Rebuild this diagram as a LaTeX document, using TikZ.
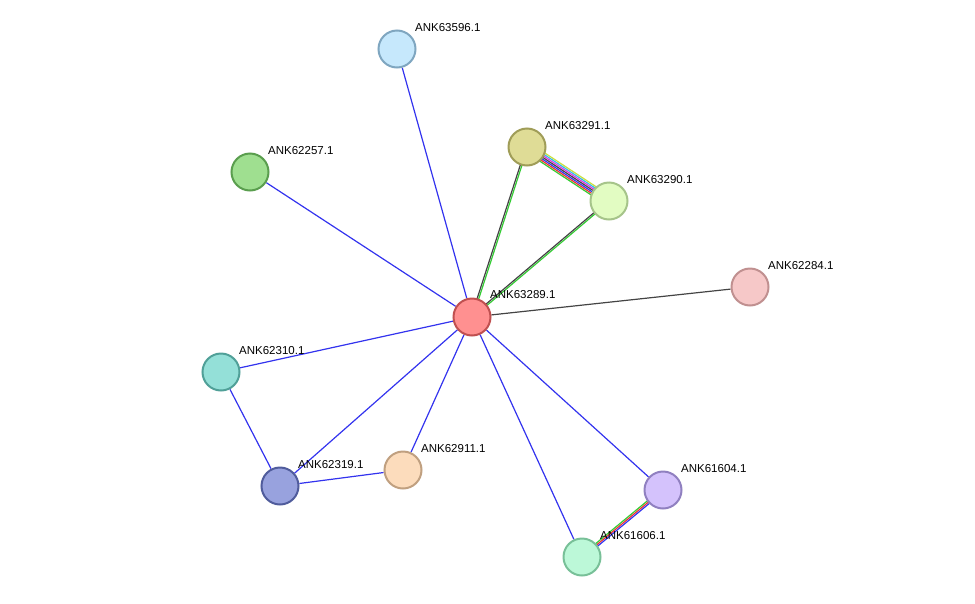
\documentclass[tikz,border=0pt]{standalone}
\usepackage{fontspec}
\setmainfont{Liberation Sans}
\usetikzlibrary{calc,backgrounds}

\definecolor{edgeblue}{HTML}{3333EE}
\definecolor{edgegray}{HTML}{444444}
\definecolor{edgegreen}{HTML}{33CC33}
\definecolor{edgelime}{HTML}{C8E040}
\definecolor{edgecyan}{HTML}{33BBEE}
\definecolor{edgemag}{HTML}{DD33DD}
\definecolor{edgered}{HTML}{EE3333}

% node fill / border colours
\definecolor{f63596}{HTML}{C6E8FC}\definecolor{d63596}{HTML}{7FA6C0}
\definecolor{f62257}{HTML}{9FDF90}\definecolor{d62257}{HTML}{5A9E4E}
\definecolor{f63291}{HTML}{DFDC96}\definecolor{d63291}{HTML}{A09D58}
\definecolor{f63290}{HTML}{E2FCC2}\definecolor{d63290}{HTML}{A6C48A}
\definecolor{f62284}{HTML}{F6C8C8}\definecolor{d62284}{HTML}{C09090}
\definecolor{f63289}{HTML}{FF9090}\definecolor{d63289}{HTML}{C05050}
\definecolor{f62310}{HTML}{94E0D8}\definecolor{d62310}{HTML}{50A098}
\definecolor{f62319}{HTML}{98A2DE}\definecolor{d62319}{HTML}{505C9C}
\definecolor{f62911}{HTML}{FCDCBC}\definecolor{d62911}{HTML}{C0A080}
\definecolor{f61604}{HTML}{D4C2FC}\definecolor{d61604}{HTML}{9080C0}
\definecolor{f61606}{HTML}{BCF8D8}\definecolor{d61606}{HTML}{78C098}

\tikzset{
  prot/.style={circle, minimum size=37pt, inner sep=0pt, line width=2pt, draw=d#1, fill=f#1},
  plabel/.style={anchor=west, font=\fontsize{11.5}{13}\selectfont, inner sep=0pt},
  link/.style={line width=1.2pt}
}

% several coloured lines side by side between two nodes
\newcommand{\multiedge}[4]{%
  \foreach \c [count=\i] in {#4} {
    \pgfmathsetmacro{\off}{#3+(\i-1)*1.6}
    \draw[link, \c] ($(#1)!\off pt!90:(#2)$) -- ($(#2)!\off pt!-90:(#1)$);
  }}

\begin{document}
\begin{tikzpicture}[x=1pt, y=-1pt]
    \useasboundingbox (0,0) rectangle (975,603);

    % Proteins
    \node[prot=63596] (n63596) at (397,49) {};
    \node[prot=62257] (n62257) at (250,172) {};
    \node[prot=63291] (n63291) at (527,147) {};
    \node[prot=63290] (n63290) at (609,201) {};
    \node[prot=62284] (n62284) at (750,287) {};
    \node[prot=63289] (n63289) at (472,317) {};
    \node[prot=62310] (n62310) at (221,372) {};
    \node[prot=62319] (n62319) at (280,486) {};
    \node[prot=62911] (n62911) at (403,470) {};
    \node[prot=61604] (n61604) at (663,490) {};
    \node[prot=61606] (n61606) at (582,557) {};

    % Labels
    \node[plabel] (l63596) at (415,28) {ANK63596.1};
    \node[plabel] (l62257) at (268,151) {ANK62257.1};
    \node[plabel] (l63291) at (545,126) {ANK63291.1};
    \node[plabel] (l63290) at (627,180) {ANK63290.1};
    \node[plabel] (l62284) at (768,266) {ANK62284.1};
    \node[plabel] (l63289) at (490,295) {ANK63289.1};
    \node[plabel] (l62310) at (239,351) {ANK62310.1};
    \node[plabel] (l62319) at (298,465) {ANK62319.1};
    \node[plabel] (l62911) at (421,449) {ANK62911.1};
    \node[plabel] (l61604) at (681,469) {ANK61604.1};
    \node[plabel] (l61606) at (600,536) {ANK61606.1};

    % Interactions
    \begin{pgfonlayer}{background}
    \foreach \t in {n63596,n62257,n62310,n62319,n62911,n61606,n61604}
        \draw[link, edgeblue] (n63289) -- (\t);
    \draw[link, edgeblue] (n62310) -- (n62319);
    \draw[link, edgeblue] (n62319) -- (n62911);
    \draw[link, edgegray] (n63289) -- (n62284);
    \multiedge{n63289}{n63291}{-0.8}{edgegreen,edgegray}
    \multiedge{n63289}{n63290}{-0.8}{edgegreen,edgegray}
    \multiedge{n63291}{n63290}{-4.8}{edgegreen,edgered,edgeblue,edgegray,edgemag,edgecyan,edgelime}
    \multiedge{n61604}{n61606}{-1.6}{edgegreen,edgered,edgeblue}
    \end{pgfonlayer}

\end{tikzpicture}
\end{document}
